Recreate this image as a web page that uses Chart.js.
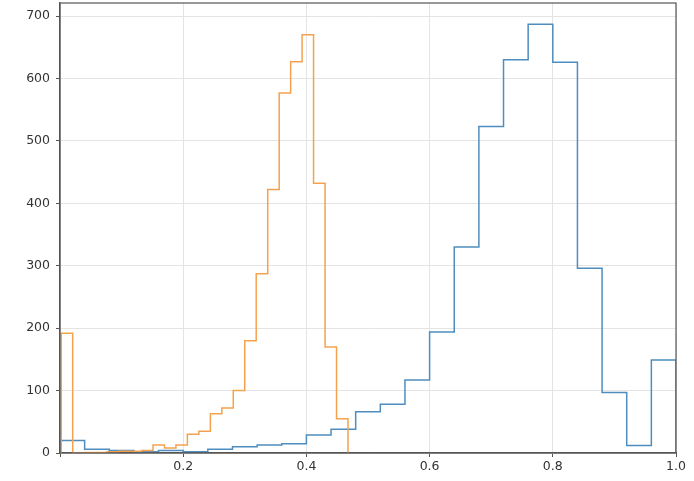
<!DOCTYPE html>
<html>
<head>
<meta charset="utf-8">
<script src="https://cdn.jsdelivr.net/npm/chart.js"></script>
<style>
  html, body { margin: 0; padding: 0; background: #fff; }
  #wrap { width: 694px; height: 481px; }
</style>
</head>
<body>
<div id="wrap"><canvas id="histChart" width="694" height="481"></canvas></div>
<script>
// bin edges and counts (step histograms)
const blueEdges = [0, 0.04, 0.08, 0.12, 0.16, 0.2, 0.24, 0.28, 0.32, 0.36, 0.4, 0.44, 0.48,
  0.52, 0.56, 0.6, 0.64, 0.68, 0.72, 0.76, 0.8, 0.84, 0.88, 0.92, 0.96, 1.0];
const blueCounts = [20, 6, 4, 2, 4, 2, 6, 10, 13, 15, 29, 38, 66,
  78, 117, 194, 330, 523, 630, 687, 626, 296, 97, 12, 149];

const orangeEdges = [0.002, 0.0206, 0.0392, 0.0579, 0.0765, 0.0951, 0.1137, 0.1323, 0.151,
  0.1696, 0.1882, 0.2068, 0.2254, 0.2441, 0.2627, 0.2813, 0.2999, 0.3185, 0.3372,
  0.3558, 0.3744, 0.393, 0.4116, 0.4303, 0.4489, 0.4675];
const orangeCounts = [192, 0, 1, 1, 2, 3, 3, 4, 13,
  8, 13, 30, 35, 63, 72, 100, 180, 287, 422,
  577, 627, 670, 432, 170, 55];

const yTicks = [0, 100, 200, 300, 400, 500, 600, 700];
const xTicks = [0, 0.2, 0.4, 0.6, 0.8, 1.0];

// turn edges + counts into points for a stepped line
function stepPoints(edges, counts) {
  const pts = [{ x: edges[0], y: 0 }];
  counts.forEach((c, i) => pts.push({ x: edges[i], y: c }));
  pts.push({ x: edges[edges.length - 1], y: counts[counts.length - 1] });
  pts.push({ x: edges[edges.length - 1], y: 0 });
  return pts;
}

// top/right spines
const frame = {
  id: "frame",
  afterDatasetsDraw(chart) {
    const { ctx, chartArea: a } = chart;
    ctx.save();
    ctx.strokeStyle = "#555";
    ctx.lineWidth = 1.2;
    ctx.strokeRect(a.left, a.top, a.right - a.left, a.bottom - a.top);
    ctx.restore();
  },
};

new Chart(document.getElementById("histChart"), {
  type: "line",
  data: {
    datasets: [
      {
        data: stepPoints(orangeEdges, orangeCounts),
        borderColor: "#f5a24f",
        borderWidth: 1.5,
        stepped: "before",
        pointRadius: 0,
        fill: false,
      },
      {
        data: stepPoints(blueEdges, blueCounts),
        borderColor: "#4f8dbf",
        borderWidth: 1.5,
        stepped: "before",
        pointRadius: 0,
        fill: false,
      },
    ],
  },
  options: {
    responsive: false,
    animation: false,
    layout: { padding: { top: 3, right: 18, left: 0, bottom: 0 } },
    plugins: { legend: { display: false }, tooltip: { enabled: false } },
    scales: {
      x: {
        type: "linear",
        min: 0,
        max: 1,
        afterBuildTicks: (s) => { s.ticks = xTicks.map((v) => ({ value: v })); },
        afterFit: (s) => { s.height = 28; s.paddingLeft = 0; s.paddingRight = 0; },
        grid: { color: "#e4e4e4", tickLength: 4, tickColor: "#555" },
        border: { color: "#555", width: 1.2 },
        ticks: {
          color: "#333",
          font: { family: "DejaVu Sans", size: 12.5 },
          padding: 2,
          maxRotation: 0,
          callback: (v) => (v === 0 ? "" : v.toFixed(1)),
        },
      },
      y: {
        min: 0,
        max: 721,
        afterBuildTicks: (s) => { s.ticks = yTicks.map((v) => ({ value: v })); },
        afterFit: (s) => { s.width = 60; s.paddingTop = 0; s.paddingBottom = 0; },
        grid: { color: "#e4e4e4", tickLength: 4, tickColor: "#555" },
        border: { color: "#555", width: 1.2 },
        ticks: {
          color: "#333",
          font: { family: "DejaVu Sans", size: 12.5 },
          padding: 6,
        },
      },
    },
  },
  plugins: [frame],
});
</script>
</body>
</html>
